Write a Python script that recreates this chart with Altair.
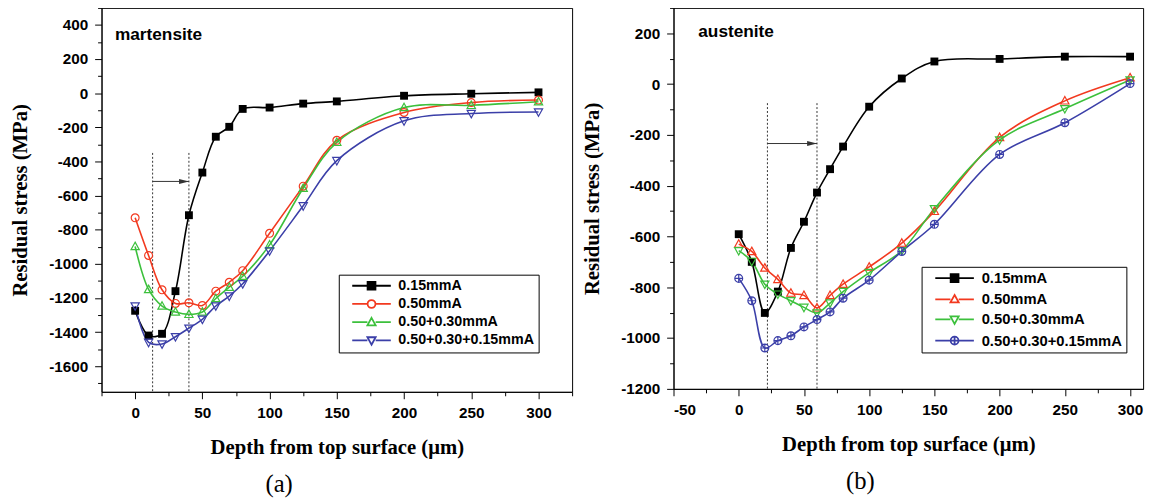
import altair as alt
import pandas as pd

# ---------------- data ----------------
depth = [0, 10, 20, 30, 40, 50, 60, 70, 80, 100, 125, 150, 200, 250, 300]
series = ["0.15mmA", "0.50mmA", "0.50+0.30mmA", "0.50+0.30+0.15mmA"]

# (a) martensite
mart_015 = [-1275, -1420, -1410, -1160, -715, -465, -255, -197, -92, -84, -61, -48, -15, -3, 5]
mart_050 = [-730, -951, -1152, -1232, -1228, -1244, -1160, -1108, -1040, -821, -545, -276, -113, -55, -40]
mart_05_03 = [-898, -1150, -1247, -1282, -1296, -1282, -1203, -1137, -1073, -889, -557, -288, -84, -71, -50]
mart_05_03_015 = [-1247, -1460, -1470, -1427, -1377, -1325, -1247, -1189, -1117, -924, -660, -395, -162, -119, -110]

# (b) austenite
aust_015 = [-591, -700, -901, -817, -645, -542, -427, -335, -246, -89, 22, 89, 99, 108, 108]
aust_050 = [-630, -659, -724, -769, -823, -832, -881, -832, -788, -720, -626, -501, -210, -66, 25]
aust_05_03 = [-656, -698, -788, -827, -853, -879, -901, -862, -817, -742, -656, -491, -220, -97, 16]
aust_05_03_015 = [-765, -853, -1039, -1010, -991, -956, -927, -897, -843, -772, -659, -552, -277, -152, 2]

# guide lines (dotted) and arrow
mart_guides = [13, 40]
mart_guide_top = -350
mart_arrow_y = -517
aust_guides = [22, 60]
aust_guide_top = -75
aust_arrow_y = -234

colors = ["#000000", "#f2391f", "#3cc03c", "#3b3fa8"]
fills = ["#000000", "#ffffff", "#ffffff", "#ffffff"]

CIRCLE = "M1,0A1,1 0 1,1 -1,0A1,1 0 1,1 1,0Z"
TRI_UP = "M0,-1.1L1.05,0.8L-1.05,0.8Z"
TRI_DN = "M0,1.1L1.05,-0.8L-1.05,-0.8Z"
SQUARE = "M-1,-1H1V1H-1Z"
CIRC_PLUS = CIRCLE + "M0,-1V1M-1,0H1"
STUBS = "M-4.9,0L-1.05,0M1.05,0L4.9,0"

SERIF = "Liberation Serif"
SANS = "Liberation Sans"


def long_df(cols):
    rows = []
    for s, vals in zip(series, cols):
        for d, v in zip(depth, vals):
            rows.append({"depth": d, "stress": v, "series": s})
    return pd.DataFrame(rows)


def axis(values, step, title, **kw):
    return alt.Axis(
        values=values,
        title=title,
        grid=False,
        labelExpr=f"datum.value % {step} == 0 ? '' + datum.value : ''",
        tickSize={"condition": {"test": f"datum.value % {step} != 0", "value": 4}, "value": 7},
        **kw,
    )


def panel(cols, xdom, ydom, xvals, yvals, ystep, point_shapes, filled_flags,
          guides, guide_top, arrow_y, label, label_xy, legend_xy, row_pad, legend_font,
          width, height, sub, sub_dx):
    df = long_df(cols)
    xs = alt.Scale(domain=xdom, nice=False, zero=False)
    ys = alt.Scale(domain=ydom, nice=False, zero=False)
    xax = axis(xvals, 50, "Depth from top surface (\u03bcm)", labelPadding=7, titlePadding=16)
    yax = axis(yvals, ystep, "Residual stress (MPa)", labelPadding=7, titlePadding=19)
    X = lambda f: alt.X(f, scale=xs, axis=xax)
    Y = lambda f: alt.Y(f, scale=ys, axis=yax)

    base = alt.Chart(df)
    layers = []

    gdf = pd.DataFrame({"gx": guides, "top": [guide_top] * len(guides), "bot": [ydom[0]] * len(guides)})
    layers.append(alt.Chart(gdf).mark_rule(strokeDash=[2, 2], color="#333333", strokeWidth=1).encode(
        x=X("gx:Q"), y=Y("top:Q"), y2="bot:Q"))
    adf = pd.DataFrame({"x0": [guides[0]], "x1": [guides[1]], "ay": [arrow_y]})
    layers.append(alt.Chart(adf).mark_rule(color="#333333", strokeWidth=1).encode(
        x=X("x0:Q"), x2="x1:Q", y=Y("ay:Q")))
    layers.append(alt.Chart(adf).mark_point(shape="M-1,-0.5L1,0L-1,0.5Z", size=100, filled=True,
                                            color="#333333", opacity=1, xOffset=-5).encode(
        x=X("x1:Q"), y=Y("ay:Q")))

    for i, s in enumerate(series):
        layers.append(base.transform_filter(alt.datum.series == s).mark_line(
            color=colors[i], strokeWidth=1.6, interpolate="catmull-rom").encode(
            x=X("depth:Q"), y=Y("stress:Q")))
    for i, s in enumerate(series):
        layers.append(base.transform_filter(alt.datum.series == s).mark_point(
            shape=point_shapes[i], size=64, color=colors[i], filled=filled_flags[i],
            strokeWidth=1.2, opacity=1).encode(x=X("depth:Q"), y=Y("stress:Q")))

    legend_paths = [STUBS + p for p in point_shapes]
    lg = alt.Legend(
        orient="none", legendX=legend_xy[0], legendY=legend_xy[1], title=None,
        symbolSize=64, symbolStrokeWidth=1.8, symbolOpacity=1,
        labelFont=SANS, labelFontSize=legend_font, labelFontWeight="bold", labelColor="black",
        labelLimit=400, padding=4, rowPadding=row_pad, symbolOffset=22, labelOffset=20,
        strokeColor="black", fillColor="white",
    )
    layers.append(base.mark_point(opacity=0, filled=False, size=64).encode(
        x=X("depth:Q"), y=Y("stress:Q"),
        shape=alt.Shape("series:N", scale=alt.Scale(domain=series, range=legend_paths), legend=lg),
        stroke=alt.Stroke("series:N", scale=alt.Scale(domain=series, range=colors), legend=lg),
        fill=alt.Fill("series:N", scale=alt.Scale(domain=series, range=fills), legend=lg),
    ))

    tdf = pd.DataFrame({"tx": [label_xy[0]], "ty": [label_xy[1]], "t": [label]})
    layers.append(alt.Chart(tdf).mark_text(align="left", baseline="middle", font=SANS,
                                           fontWeight="bold", fontSize=17.5, color="black").encode(
        x=X("tx:Q"), y=Y("ty:Q"), text="t:N"))

    return alt.layer(*layers).properties(
        width=width, height=height,
        title=alt.TitleParams(sub, orient="bottom", font=SERIF, fontSize=25, fontWeight="normal",
                              color="black", anchor="middle", frame="bounds", offset=15, dx=sub_dx),
    )


pa = panel([mart_015, mart_050, mart_05_03, mart_05_03_015],
           [-25, 325], [-1750, 500],
           list(range(-25, 326, 25)), list(range(-1700, 501, 100)), 200,
           [SQUARE, CIRCLE, TRI_UP, TRI_DN], [True, False, False, False],
           mart_guides, mart_guide_top, mart_arrow_y,
           "martensite", [-15, 342], [241, 271], 2.5, 14.5, 478, 390, "(a)", -12)

pb = panel([aust_015, aust_050, aust_05_03, aust_05_03_015],
           [-50, 310], [-1200, 300],
           list(range(-50, 301, 25)), list(range(-1200, 301, 100)), 200,
           [SQUARE, TRI_UP, TRI_DN, CIRC_PLUS], [True, False, False, False],
           aust_guides, aust_guide_top, aust_arrow_y,
           "austenite", [-31, 203], [252, 263], 4.5, 15, 477, 387, "(b)", -5)

chart = alt.hconcat(pa, pb, spacing=7).resolve_scale(
    x="independent", y="independent", shape="independent",
    stroke="independent", fill="independent",
).properties(
    padding={"left": 0, "top": -5, "right": 0, "bottom": 0}
).configure_view(stroke="black", strokeWidth=1).configure_axis(
    labelFont=SANS, labelFontWeight="bold", labelFontSize=15.5, labelColor="black",
    titleFont=SERIF, titleFontWeight="bold", titleFontSize=21, titleColor="black",
    domainColor="black", tickColor="black", domainWidth=1, tickWidth=1,
)

chart.save("out.html", embed_options={"renderer": "svg", "actions": False})
